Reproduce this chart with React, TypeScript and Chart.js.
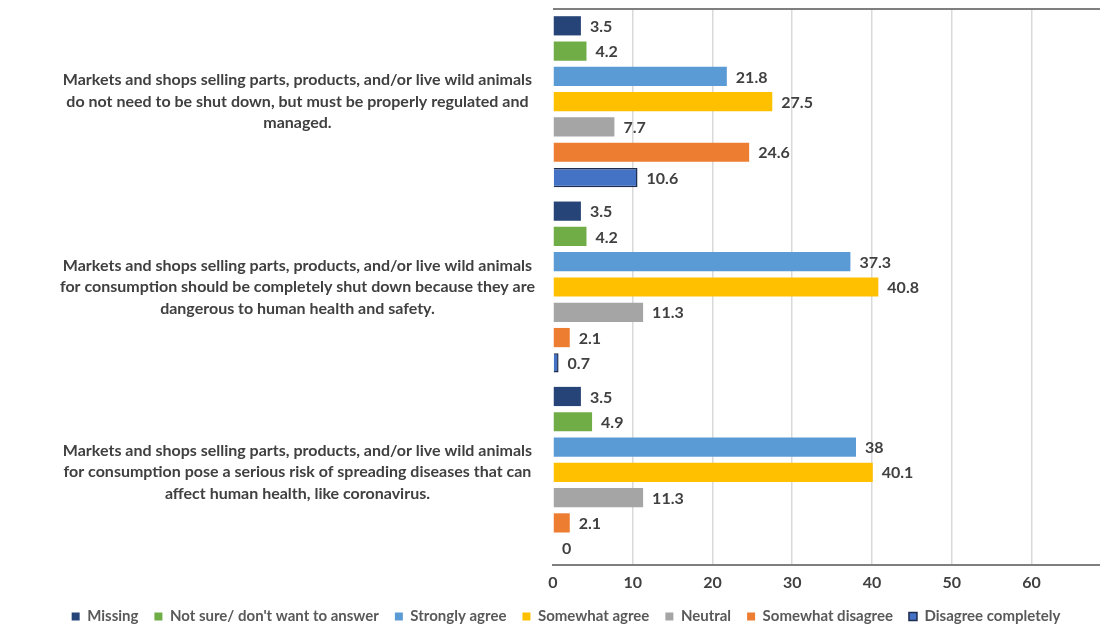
import React, { useEffect, useRef } from "react";
import { Chart, registerables } from "chart.js";

Chart.register(...registerables);

const categories: string[][] = [
  [
    "Markets and shops selling parts, products, and/or live wild animals",
    "do not need to be shut down, but must be properly regulated and",
    "managed.",
  ],
  [
    "Markets and shops selling parts, products, and/or live wild animals",
    "for consumption should be completely shut down because they are",
    "dangerous to human health and safety.",
  ],
  [
    "Markets and shops selling parts, products, and/or live wild animals",
    "for consumption pose a serious risk of spreading diseases that can",
    "affect human health, like coronavirus.",
  ],
];

const seriesNames = [
  "Missing",
  "Not sure/ don't want to answer",
  "Strongly agree",
  "Somewhat agree",
  "Neutral",
  "Somewhat disagree",
  "Disagree completely",
];

const missing = [3.5, 3.5, 3.5];
const notSure = [4.2, 4.2, 4.9];
const stronglyAgree = [21.8, 37.3, 38];
const somewhatAgree = [27.5, 40.8, 40.1];
const neutral = [7.7, 11.3, 11.3];
const somewhatDisagree = [24.6, 2.1, 2.1];
const disagreeCompletely = [10.6, 0.7, 0];

const xTicks = [0, 10, 20, 30, 40, 50, 60];

const colors = ["#264478", "#70AD47", "#5B9BD5", "#FFC000", "#A5A5A5", "#ED7D31", "#4472C4"];
const borders = ["#264478", "#70AD47", "#5B9BD5", "#FFC000", "#A5A5A5", "#ED7D31", "#1F2D4F"];

const FONT = "Lato, 'Open Sans', sans-serif";
const TEXT = "#404040";

const labelPlugin = {
  id: "valueLabels",
  afterLayout(chart: any) {
    if (chart.legend) {
      chart.legend.left += 16;
      chart.legend.right += 16;
    }
  },
  afterDatasetsDraw(chart: any) {
    const ctx = chart.ctx;
    ctx.save();
    ctx.font = `bold 16px ${FONT}`;
    ctx.fillStyle = TEXT;
    ctx.textAlign = "left";
    ctx.textBaseline = "middle";
    chart.data.datasets.forEach((ds: any, di: number) => {
      const meta = chart.getDatasetMeta(di);
      meta.data.forEach((bar: any, i: number) => {
        const v = ds.data[i];
        ctx.fillText(String(v), bar.x + 9, bar.y + 1);
      });
    });
    const a = chart.chartArea;
    ctx.strokeStyle = "#7F7F7F";
    ctx.lineWidth = 2;
    ctx.beginPath();
    ctx.moveTo(a.left, a.top);
    ctx.lineTo(chart.width, a.top);
    ctx.stroke();
    ctx.restore();
  },
};

export default function App() {
  const ref = useRef<HTMLCanvasElement>(null);
  useEffect(() => {
    if (!ref.current) return;
    const data = [missing, notSure, stronglyAgree, somewhatAgree, neutral, somewhatDisagree, disagreeCompletely];
    const chart = new Chart(ref.current, {
      type: "bar",
      data: {
        labels: categories,
        datasets: seriesNames.map((name, i) => ({
          label: name,
          data: data[i],
          backgroundColor: colors[i],
          borderColor: borders[i],
          borderWidth: i === 6 ? 1.5 : 0,
          categoryPercentage: 0.955,
          barPercentage: 0.76,
        })),
      },
      plugins: [labelPlugin],
      options: {
        indexAxis: "y",
        animation: false,
        responsive: false,
        maintainAspectRatio: false,
        layout: { padding: { top: 9, right: 0, left: 0, bottom: -10 } },
        scales: {
          x: {
            min: 0,
            max: 68.6,
            afterBuildTicks: (scale: any) => {
              scale.ticks = xTicks.map((v) => ({ value: v }));
            },
            afterFit: (scale: any) => {
              scale.height = 28;
            },
            grid: {
              color: (c: any) => (c.tick && c.tick.value === 0 ? "rgba(0,0,0,0)" : "#D9D9D9"),
              lineWidth: 1.5,
              drawTicks: false,
            },
            border: { display: true, color: "#7F7F7F", width: 2 },
            ticks: {
              color: TEXT,
              font: { family: FONT, size: 16, weight: "bold" },
              padding: 8,
            },
          },
          y: {
            afterFit: (scale: any) => {
              scale.width = 553;
              scale.paddingTop = 0;
              scale.paddingBottom = 0;
            },
            grid: { display: false, drawTicks: false },
            border: { display: false },
            ticks: {
              crossAlign: "center",
              color: TEXT,
              font: { family: FONT, size: 16, weight: "bold", lineHeight: 1.34 },
              padding: 18,
            },
          },
        },
        plugins: {
          legend: {
            position: "bottom",
            labels: {
              boxWidth: 8,
              boxHeight: 8,
              color: "#595959",
              font: { family: FONT, size: 15, weight: "bold", lineHeight: 1 },
              padding: 16,
            },
          },
          tooltip: { enabled: false },
        },
      },
    });
    return () => chart.destroy();
  }, []);
  return (
    <div style={{ position: "fixed", left: 0, top: 0, width: 1100, height: 624, background: "#fff" }}>
      <canvas ref={ref} width={1100} height={624} />
    </div>
  );
}
